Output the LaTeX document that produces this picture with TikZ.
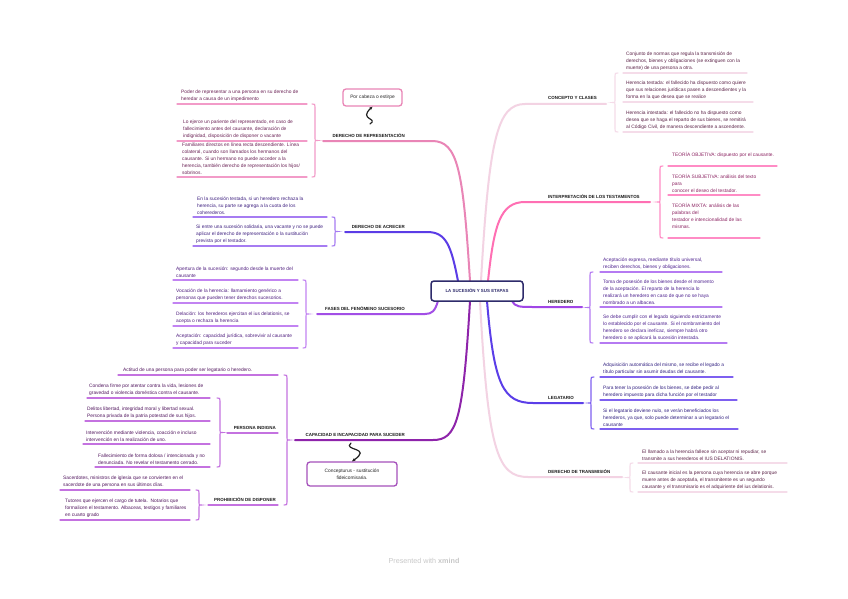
\documentclass[tikz,border=0pt]{standalone}
\usepackage{fontspec}
\setmainfont{Liberation Sans}
\usetikzlibrary{arrows.meta}
\definecolor{cRep}{HTML}{E985B6}\definecolor{cRepL}{HTML}{F29BC8}\definecolor{cRepT}{HTML}{6B2255}
\definecolor{cAcr}{HTML}{5B3CE6}\definecolor{cAcrL}{HTML}{A67CF2}\definecolor{cAcrT}{HTML}{3F2180}
\definecolor{cFas}{HTML}{A24EE6}\definecolor{cFasL}{HTML}{C283F2}\definecolor{cFasT}{HTML}{512080}
\definecolor{cCap}{HTML}{8E24AA}\definecolor{cCapL}{HTML}{C472E0}\definecolor{cCapT}{HTML}{52175F}
\definecolor{cCon}{HTML}{F3D3E3}\definecolor{cConL}{HTML}{F5DCE9}\definecolor{cConT}{HTML}{5C2348}
\definecolor{cInt}{HTML}{FF6FB3}\definecolor{cIntL}{HTML}{FF8CC5}\definecolor{cIntT}{HTML}{8C2362}
\definecolor{cHer}{HTML}{A046E6}\definecolor{cHerL}{HTML}{B57AF2}\definecolor{cHerT}{HTML}{4E228F}
\definecolor{cLeg}{HTML}{5B3EE8}\definecolor{cLegL}{HTML}{7E60F0}\definecolor{cLegT}{HTML}{332282}
\definecolor{cCen}{HTML}{2E2B6B}\definecolor{cFoot}{HTML}{C8C8C8}\definecolor{cRel}{HTML}{222222}
\tikzset{
  itm/.style={font=\fontsize{4.85}{7}\selectfont, align=left, inner sep=0pt, anchor=south west},
  lbl/.style={font=\fontsize{4.45}{5}\selectfont\bfseries, inner sep=0pt, text=black!90},
  branch/.style={line width=2pt, line cap=round},
  uline/.style={line width=1.1pt, line cap=round},
  brc/.style={line width=1.1pt, line cap=round},
  relline/.style={line width=1.2pt, color=cRel, line cap=round, -{Stealth[length=3.5pt,width=3pt]}},
  callout/.style={draw, line width=1.3pt, rounded corners=3pt, fill=white, align=center,
    font=\fontsize{4.85}{7}\selectfont, inner sep=0pt}
}
% item: name, x text, y line, x1, x2, line colour, text colour, text
\newcommand\Itm[8]{%
  \coordinate (#1a) at (#4,#3);\coordinate (#1b) at (#5,#3);
  \node[itm, text=#7] (#1) at (#2,#3-2.5) {#8};
  \draw[uline, #6] (#1a) -- (#1b);}
% brace with tip to the right: x, y1, y2, colour
\newcommand\BrR[4]{%
  \draw[brc, #4] (#1-3,#2) .. controls (#1,#2) .. (#1,#2+3) -- (#1,{(#2+#3)/2-2})
   .. controls (#1,{(#2+#3)/2}) .. (#1+2.5,{(#2+#3)/2}) .. controls (#1,{(#2+#3)/2}) .. (#1,{(#2+#3)/2+2})
   -- (#1,#3-3) .. controls (#1,#3) .. (#1-3,#3);}
% brace with tip to the left
\newcommand\BrL[4]{%
  \draw[brc, #4] (#1+3,#2) .. controls (#1,#2) .. (#1,#2+3) -- (#1,{(#2+#3)/2-2})
   .. controls (#1,{(#2+#3)/2}) .. (#1-2.5,{(#2+#3)/2}) .. controls (#1,{(#2+#3)/2}) .. (#1,{(#2+#3)/2+2})
   -- (#1,#3-3) .. controls (#1,#3) .. (#1+3,#3);}
\begin{document}
\begin{tikzpicture}[x=1pt,y=-1pt]
\useasboundingbox (0,0) rectangle (848,599);
\fill[white] (0,0) rectangle (848,599);

% ---------- branch curves ----------
\coordinate (oRep) at (470,281); \coordinate (eRep) at (323,141);
\coordinate (oAcr) at (458,281); \coordinate (eAcr) at (345,232);
\coordinate (oFas) at (438,301); \coordinate (eFas) at (317,314);
\coordinate (oCap) at (470,301); \coordinate (eCap) at (295,440);
\coordinate (oCon) at (481,281); \coordinate (eCon) at (606,104);
\coordinate (oInt) at (488,281); \coordinate (eInt) at (650,202);
\coordinate (oHer) at (512,301); \coordinate (eHer) at (582,307);
\coordinate (oLeg) at (487,301); \coordinate (eLeg) at (583,403);
\coordinate (oTra) at (480,301); \coordinate (eTra) at (622,477);

\draw[branch, cCon] (oCon) .. controls (489,140) and (497,104) .. (525,104) -- (eCon);
\draw[branch, cCon] (oTra) .. controls (488,450) and (497,477) .. (528,477) -- (eTra);
\draw[branch, cRep] (oRep) .. controls (463,170) and (458,141) .. (432,141) -- (eRep);
\draw[branch, cAcr] (oAcr) .. controls (451,245) and (446,232) .. (427,232) -- (eAcr);
\draw[branch, cFas] (oFas) .. controls (435,311) and (432,314) .. (425,314) -- (eFas);
\draw[branch, cCap] (oCap) .. controls (463,420) and (457,440) .. (433,440) -- (eCap);
\draw[branch, cInt] (oInt) .. controls (494,225) and (500,202) .. (525,202) -- (eInt);
\draw[branch, cHer] (oHer) .. controls (515,307) and (520,307) .. (533,307) -- (eHer);
\draw[branch, cLeg] (oLeg) .. controls (494,385) and (503,403) .. (533,403) -- (eLeg);

% ---------- central topic ----------
\node[draw=cCen, line width=1.5pt, rounded corners=3pt, fill=white, minimum width=92pt, minimum height=20pt,
  inner sep=0pt, font=\fontsize{4.4}{5}\selectfont\bfseries, text=cCen] (root) at (477,291) {LA SUCESIÓN Y SUS ETAPAS};

% ---------- main labels ----------
\node[lbl, anchor=south east] (lRep) at (405,137.5) {DERECHO DE REPRESENTACIÓN};
\node[lbl, anchor=south east] (lAcr) at (405,228.5) {DERECHO DE ACRECER};
\node[lbl, anchor=south east] (lFas) at (405,310.5) {FASES DEL FENÓMENO SUCESORIO};
\node[lbl, anchor=south east] (lCap) at (405,436.5) {CAPACIDAD E INCAPACIDAD PARA SUCEDER};
\node[lbl, anchor=south west] (lCon) at (548,99.5) {CONCEPTO Y CLASES};
\node[lbl, anchor=south west] (lInt) at (548,198.5) {INTERPRETACIÓN DE LOS TESTAMENTOS};
\node[lbl, anchor=south west] (lHer) at (548,303.5) {HEREDERO};
\node[lbl, anchor=south west] (lLeg) at (548,399.5) {LEGATARIO};
\node[lbl, anchor=south west] (lTra) at (548,473.5) {DERECHO DE TRANSMISIÓN};

% ---------- derecho de representación ----------
\BrR{315}{104}{177}{cRepL}
\Itm{r1}{181}{104}{177}{307}{cRepL}{cRepT}{Poder de representar a una persona en su derecho de\\heredar a causa de un impedimento}
\Itm{r2}{183}{141}{177}{307}{cRepL}{cRepT}{Lo ejerce un pariente del representado, en caso de\\fallecimiento antes del causante, declaración de\\indignidad, disposición de disponer o vacante}
\Itm{r3}{182}{177}{177}{307}{cRepL}{cRepT}{Familiares directos en línea recta descendiente. Línea\\colateral, cuando son llamados los hermanos del\\causante. Si un hermano no puede acceder a la\\herencia, también derecho de representación los hijos/\\sobrinos.}
\node[callout, draw=cRep, text=black!85, minimum width=59pt, minimum height=17pt] (pc) at (372.5,97.5) {Por cabeza o estirpe};
\coordinate (pcS) at (370,124);
\draw[relline] (pcS) .. controls (379,118) and (358,120) .. (pc.south);

% ---------- derecho de acrecer ----------
\BrR{335}{217}{246}{cAcrL}
\Itm{a1}{197}{217}{193}{327}{cAcrL}{cAcrT}{En la sucesión testada, si un heredero rechaza la\\herencia, su parte se agrega a la cuota de los\\coherederos.}
\Itm{a2}{196}{246}{193}{327}{cAcrL}{cAcrT}{Si entre una sucesión solidaria, una vacante y no se puede\\aplicar el derecho de representación o la sustitución\\prevista por el testador.}

% ---------- fases ----------
\BrR{306}{280}{348}{cFasL}
\Itm{f1}{176}{280}{173}{298}{cFasL}{cFasT}{Apertura de la sucesión: segundo desde la muerte del\\causante}
\Itm{f2}{176}{303}{173}{298}{cFasL}{cFasT}{Vocación de la herencia: llamamiento genérico a\\personas que pueden tener derechos sucesorios.}
\Itm{f3}{176}{326}{173}{298}{cFasL}{cFasT}{Delación: los herederos ejercitan el ius delationis, se\\acepta o rechaza la herencia}
\Itm{f4}{176}{348}{173}{298}{cFasL}{cFasT}{Aceptación: capacidad jurídica, sobrevivir al causante\\y capacidad para suceder}

% ---------- capacidad ----------
\BrR{287}{375}{505}{cCapL}
\Itm{c1}{123}{375}{118}{278}{cCapL}{cCapT}{Actitud de una persona para poder ser legatario o heredero.}
\coordinate (pinA) at (227,433); \coordinate (pinB) at (278,433);
\draw[uline, cCapL] (pinA) -- (pinB);
\node[lbl, anchor=south east] (pin) at (276,429.5) {PERSONA INDIGNA};
\BrR{220}{398}{467}{cCapL}
\Itm{p1}{89}{398}{87}{210}{cCapL}{cCapT}{Condena firme por atentar contra la vida, lesiones de\\gravedad o violencia doméstica contra el causante.}
\Itm{p2}{87}{421}{85}{210}{cCapL}{cCapT}{Delitos libertad, integridad moral y libertad sexual.\\Persona privada de la patria potestad de sus hijos.}
\Itm{p3}{86}{444}{83}{210}{cCapL}{cCapT}{Intervención mediante violencia, coacción e incluso\\intervención en la realización de uno.}
\Itm{p4}{98}{467}{95}{210}{cCapL}{cCapT}{Fallecimiento de forma dolosa / intencionada y no\\denunciada. No revelar el testamento cerrado.}
\coordinate (proA) at (208,505); \coordinate (proB) at (278,505);
\draw[uline, cCapL] (proA) -- (proB);
\node[lbl, anchor=south east] (pro) at (276,501.5) {PROHIBICIÓN DE DISPONER};
\BrR{199}{490}{520}{cCapL}
\Itm{h1}{63}{490}{60}{190}{cCapL}{cCapT}{Sacerdotes, ministros de iglesia que se convierten en el\\sacerdote de una persona en sus últimos días.}
\Itm{h2}{65}{520}{60}{190}{cCapL}{cCapT}{Tutores que ejercen el cargo de tutela.\ \ Notarios que\\formalicen el testamento. Albaceas, testigos y familiares\\en cuarto grado}
\node[callout, draw=cCap!80, text=black!85, minimum width=90pt, minimum height=24pt] (cf) at (352,474) {Concepturus - sustitución\\fideicomisaria.};
\coordinate (cfS) at (351,443);
\draw[relline] (cfS) .. controls (342,451) and (373,447) .. (cf.north);

% ---------- concepto y clases ----------
\BrL{615}{73}{132}{cConL}
\Itm{k1}{626}{73}{623}{747}{cConL}{cConT}{Conjunto de normas que regula la transmisión de\\derechos, bienes y obligaciones (se extinguen con la\\muerte) de una persona a otra.}
\Itm{k2}{626}{102}{623}{753}{cConL}{cConT}{Herencia testada: el fallecido ha dispuesto como quiere\\que sus relaciones jurídicas pasen a descendientes y la\\forma en la que desea que se realice}
\Itm{k3}{626}{132}{623}{753}{cConL}{cConT}{Herencia intestada: el fallecido no ha dispuesto como\\desea que se haga el reparto de sus bienes, se remitirá\\al Código Civil, de manera descendiente a ascendente.}

% ---------- interpretación ----------
\BrL{660}{166}{238}{cIntL}
\Itm{i1}{672}{166}{668}{777}{cIntL}{cIntT}{TEORÍA OBJETIVA: dispuesto por el causante.\\\mbox{}}
\Itm{i2}{672}{195}{668}{760}{cIntL}{cIntT}{TEORÍA SUBJETIVA: análisis del texto\\para\\conocer el deseo del testador.}
\Itm{i3}{672}{238}{668}{760}{cIntL}{cIntT}{TEORÍA MIXTA: análisis de las\\palabras del\\testador e intencionalidad de las\\mismas.\\\mbox{}}

% ---------- heredero ----------
\BrL{590}{272}{343}{cHerL}
\Itm{e1}{603}{272}{600}{722}{cHerL}{cHerT}{Aceptación expresa, mediante título universal,\\reciben derechos, bienes y obligaciones.}
\Itm{e2}{603}{307}{600}{722}{cHerL}{cHerT}{Toma de posesión de los bienes desde el momento\\de la aceptación. El reparto de la herencia lo\\realizará un heredero en caso de que no se haya\\nombrado a un albacea.}
\Itm{e3}{603}{343}{600}{727}{cHerL}{cHerT}{Se debe cumplir con el legado siguiendo estrictamente\\lo establecido por el causante. Si el nombramiento del\\heredero se declara ineficaz, siempre habrá otro\\heredero o se aplicará la sucesión intestada.}

% ---------- legatario ----------
\BrL{591}{377}{429}{cLegL}
\Itm{l1}{603}{377}{600}{733}{cLegL}{cLegT}{Adquisición automática del mismo, se recibe el legado a\\título particular sin asumir deudas del causante.}
\Itm{l2}{603}{400}{600}{737}{cLegL}{cLegT}{Para tener la posesión de los bienes, se debe pedir al\\heredero impuesto para dicha función por el testador}
\Itm{l3}{603}{429}{600}{738}{cLegL}{cLegT}{Si el legatario deviene nulo, se verán beneficiados los\\herederos, ya que, solo puede determinar a un legatario el\\causante}

% ---------- derecho de transmisión ----------
\BrL{630}{463}{492}{cConL}
\Itm{t1}{642}{463}{638}{787}{cConL}{cConT}{El llamado a la herencia fallece sin aceptar ni repudiar, se\\transmite a sus herederos el IUS DELATIONIS.}
\Itm{t2}{642}{492}{638}{787}{cConL}{cConT}{El causante inicial es la persona cuya herencia se abre porque\\muere antes de aceptarla, el transmitente es un segundo\\causante y el transmisario es el adquiriente del ius delationis.}

% ---------- footer ----------
\node[font=\fontsize{7.2}{8}\selectfont, text=cFoot, inner sep=0pt] (foot) at (424,561) {Presented with \textbf{xmind}};
\end{tikzpicture}
\end{document}
